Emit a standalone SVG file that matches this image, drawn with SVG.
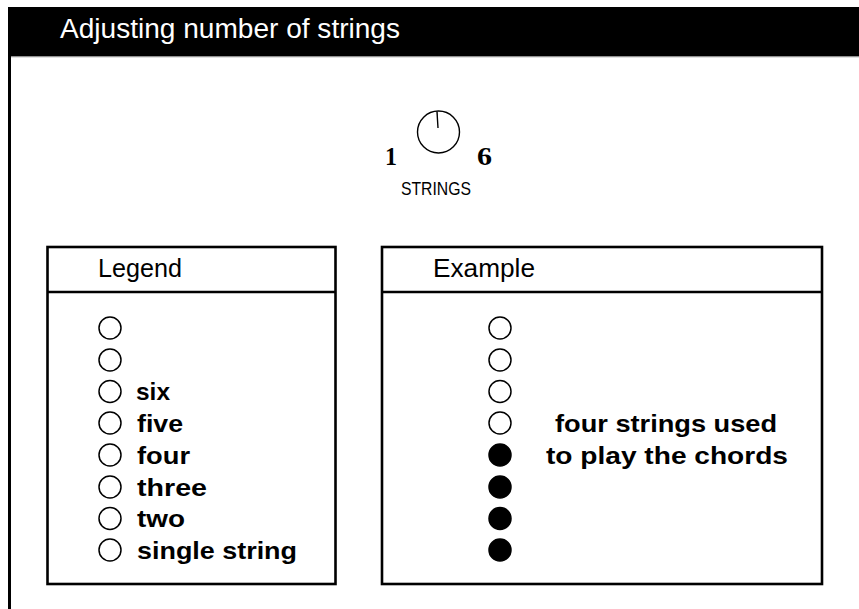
<svg xmlns="http://www.w3.org/2000/svg" width="859" height="609" viewBox="0 0 859 609">
<style>
.box{fill:#fff;stroke:#000;stroke-width:2.6}
.sep{stroke:#000;stroke-width:2.6}
.head{font-family:"Liberation Sans",Arial,sans-serif;font-size:25px;fill:#000}
.lbl{font-family:"Liberation Sans",Arial,sans-serif;font-size:24px;font-weight:bold;fill:#000}
.open{fill:#fff;stroke:#000;stroke-width:1.5}
.full{fill:#000;stroke:#000;stroke-width:1.5}
</style>
<rect x="0" y="0" width="859" height="609" fill="#fff"/>
<g id="frame">
<rect x="8" y="7" width="851" height="49.5" fill="#000"/>
<line x1="11" y1="56.8" x2="859" y2="56.8" stroke="#999" stroke-width="1"/>
<line x1="9.5" y1="56" x2="9.5" y2="609" stroke="#000" stroke-width="3"/>
<text x="60" y="38" font-family="Liberation Sans,Arial,sans-serif" font-size="27" fill="#fff" textLength="340" lengthAdjust="spacingAndGlyphs">Adjusting number of strings</text>
</g>
<g id="knob">
<circle cx="438.5" cy="132" r="21" fill="none" stroke="#000" stroke-width="1.4"/>
<line x1="437" y1="111.5" x2="438" y2="128" stroke="#000" stroke-width="1.4"/>
<text x="385" y="165" font-family="Liberation Serif,Times New Roman,serif" font-size="26" font-weight="bold" textLength="12" lengthAdjust="spacingAndGlyphs">1</text>
<text x="477" y="165" font-family="Liberation Serif,Times New Roman,serif" font-size="26" font-weight="bold" textLength="15" lengthAdjust="spacingAndGlyphs">6</text>
<text x="436" y="195" text-anchor="middle" font-family="Liberation Sans,Arial,sans-serif" font-size="18" textLength="70" lengthAdjust="spacingAndGlyphs">STRINGS</text>
</g>
<g id="legend">
<rect class="box" x="47.5" y="247" width="288" height="337"/>
<line class="sep" x1="47.5" y1="292" x2="335.5" y2="292"/>
<text class="head" x="98" y="277" textLength="84" lengthAdjust="spacingAndGlyphs">Legend</text>
<circle class="open" cx="110" cy="328" r="11"/>
<circle class="open" cx="110" cy="360" r="11"/>
<circle class="open" cx="110" cy="391.5" r="11"/>
<circle class="open" cx="110" cy="423" r="11"/>
<circle class="open" cx="110" cy="455" r="11"/>
<circle class="open" cx="110" cy="487" r="11"/>
<circle class="open" cx="110" cy="518.5" r="11"/>
<circle class="open" cx="110" cy="550" r="11"/>
<text class="lbl" x="136" y="400" textLength="34" lengthAdjust="spacingAndGlyphs">six</text>
<text class="lbl" x="137" y="431.5" textLength="46" lengthAdjust="spacingAndGlyphs">five</text>
<text class="lbl" x="137" y="463.5" textLength="53" lengthAdjust="spacingAndGlyphs">four</text>
<text class="lbl" x="137" y="495.5" textLength="70" lengthAdjust="spacingAndGlyphs">three</text>
<text class="lbl" x="137" y="527" textLength="48" lengthAdjust="spacingAndGlyphs">two</text>
<text class="lbl" x="137" y="558.5" textLength="160" lengthAdjust="spacingAndGlyphs">single string</text>
</g>
<g id="example">
<rect class="box" x="382" y="247" width="440" height="337"/>
<line class="sep" x1="382" y1="292" x2="822" y2="292"/>
<text class="head" x="433" y="277" textLength="102" lengthAdjust="spacingAndGlyphs">Example</text>
<circle class="open" cx="500" cy="328" r="11"/>
<circle class="open" cx="500" cy="360" r="11"/>
<circle class="open" cx="500" cy="391.5" r="11"/>
<circle class="open" cx="500" cy="423" r="11"/>
<circle class="full" cx="500" cy="455" r="11"/>
<circle class="full" cx="500" cy="487" r="11"/>
<circle class="full" cx="500" cy="518.5" r="11"/>
<circle class="full" cx="500" cy="550" r="11"/>
<text class="lbl" x="555" y="431.5" textLength="222" lengthAdjust="spacingAndGlyphs">four strings used</text>
<text class="lbl" x="546" y="464" textLength="242" lengthAdjust="spacingAndGlyphs">to play the chords</text>
</g>
<g id="connectors"/>
</svg>
